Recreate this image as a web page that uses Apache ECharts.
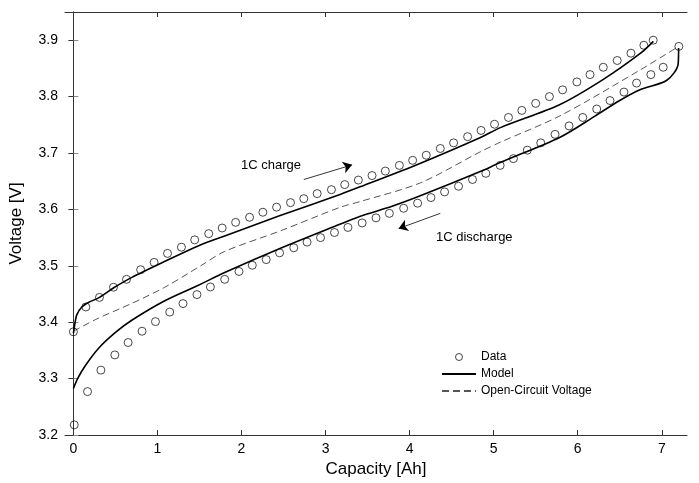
<!DOCTYPE html>
<html><head><meta charset="utf-8">
<script src="https://cdn.jsdelivr.net/npm/echarts@6/dist/echarts.min.js"></script>
<style>html,body{margin:0;padding:0;background:#fff}#c{width:699px;height:483px}</style>
</head><body><div id="c"></div>
<script>
// ---- data ----
const xTicks = [0,1,2,3,4,5,6,7];
const yTicks = [3.2,3.3,3.4,3.5,3.6,3.7,3.8,3.9];

const chargeDataX = [0,0.148,0.31,0.477,0.632,0.80,0.96,1.12,1.285,1.443,1.61,1.77,1.93,2.096,2.254,2.417,2.583,2.741,2.90,3.07,3.228,3.39,3.553,3.711,3.878,4.036,4.198,4.365,4.523,4.69,4.85,5.01,5.176,5.335,5.50,5.663,5.82,5.99,6.146,6.304,6.47,6.633,6.787,6.898];
const chargeDataY = [3.383,3.427,3.444,3.462,3.476,3.493,3.506,3.522,3.533,3.546,3.557,3.567,3.577,3.586,3.595,3.604,3.612,3.619,3.628,3.635,3.644,3.652,3.660,3.668,3.678,3.687,3.696,3.708,3.718,3.729,3.740,3.751,3.763,3.7755,3.788,3.800,3.812,3.826,3.839,3.852,3.864,3.877,3.891,3.900];

const dischargeDataX = [0.01,0.168,0.327,0.493,0.651,0.817,0.976,1.146,1.304,1.47,1.63,1.80,1.97,2.128,2.294,2.453,2.622,2.78,2.94,3.106,3.266,3.435,3.60,3.759,3.929,4.095,4.254,4.416,4.582,4.748,4.907,5.077,5.235,5.40,5.56,5.73,5.897,6.06,6.226,6.384,6.55,6.70,6.87,7.017,7.203];
const dischargeDataY = [3.218,3.277,3.315,3.342,3.364,3.384,3.401,3.418,3.433,3.449,3.4625,3.476,3.490,3.501,3.511,3.523,3.532,3.542,3.550,3.559,3.568,3.576,3.585,3.593,3.602,3.611,3.621,3.631,3.641,3.653,3.664,3.678,3.690,3.705,3.718,3.733,3.748,3.763,3.778,3.793,3.808,3.824,3.839,3.852,3.889];

const chargeModelX = [0,0.01,0.04,0.1,0.18,0.31,0.48,0.69,1.09,1.51,1.8,2.46,3.18,3.41,4.13,4.85,5.08,5.79,6.3,6.74,6.9];
const chargeModelY = [3.380,3.390,3.413,3.427,3.435,3.444,3.461,3.479,3.508,3.537,3.553,3.589,3.627,3.640,3.682,3.728,3.745,3.786,3.830,3.876,3.898];

const dischargeModelX = [0,0.05,0.137,0.295,0.493,0.69,1.087,1.48,1.8,2.464,3.177,3.414,3.8,4.127,4.84,5.077,5.79,6.2,6.5,6.74,7.06,7.195,7.2];
const dischargeModelY = [3.2825,3.300,3.322,3.353,3.381,3.403,3.438,3.465,3.488,3.531,3.574,3.588,3.606,3.624,3.667,3.683,3.728,3.765,3.793,3.812,3.829,3.858,3.886];

const ocvX = [0,0.295,0.69,1.087,1.514,1.8,2.464,3.177,3.414,4.127,4.84,5.077,5.79,6.74,7.2];
const ocvY = [3.384,3.407,3.433,3.462,3.500,3.5255,3.562,3.604,3.614,3.647,3.702,3.719,3.766,3.847,3.889];

// annotation arrows (data coordinates) and labels
const chargeArrow = [[2.741,3.653],[3.316,3.679]];
const dischargeArrow = [[4.365,3.593],[3.869,3.566]];
const chargeLabel = '1C charge';
const dischargeLabel = '1C discharge';

const zip = (xs, ys) => xs.map((x,i)=>[x, ys[i]]);
const FONT = '"Liberation Sans", Arial, sans-serif';

const chart = echarts.init(document.getElementById('c'));
const axisLineDark = {show:true, lineStyle:{color:'#333', width:1}};
const option = {
  animation:false,
  grid:{left:64,right:12,top:12,bottom:41},
  xAxis:[{
    type:'value', min:-0.1, max:7.3, position:'bottom',
    name:'Capacity [Ah]', nameLocation:'middle', nameGap:26,
    nameTextStyle:{fontFamily:FONT,fontSize:17,color:'#000'},
    axisLine:axisLineDark,
    axisTick:{show:true,inside:true,length:5,customValues:xTicks,lineStyle:{color:'#333'}},
    axisLabel:{customValues:xTicks,fontFamily:FONT,fontSize:14,color:'#000',margin:7},
    splitLine:{show:false}
  },{
    type:'value', min:-0.1, max:7.3, position:'top',
    axisLine:axisLineDark,
    axisTick:{show:true,inside:true,length:5,customValues:xTicks,lineStyle:{color:'#333'}},
    axisLabel:{show:false}, splitLine:{show:false}
  }],
  yAxis:[{
    type:'value', min:3.2, max:3.95, position:'left',
    name:'Voltage [V]', nameLocation:'middle', nameGap:40, nameRotate:90,
    nameTextStyle:{fontFamily:FONT,fontSize:17,color:'#000'},
    axisLine:{show:true,lineStyle:{color:'#8a8a8a',width:1}},
    axisTick:{show:true,inside:true,length:5,customValues:yTicks,lineStyle:{color:'#8a8a8a'}},
    axisLabel:{customValues:yTicks,fontFamily:FONT,fontSize:14,color:'#000',margin:7,formatter:v=>v.toFixed(1)},
    splitLine:{show:false}
  },{
    type:'value', min:3.2, max:3.95, position:'right',
    axisLine:axisLineDark,
    axisTick:{show:true,inside:true,length:5,customValues:yTicks,lineStyle:{color:'#333'}},
    axisLabel:{show:false}, splitLine:{show:false}
  }],
  legend:{
    orient:'vertical', left:436, top:346, itemGap:5, itemWidth:34, itemHeight:7,
    textStyle:{fontFamily:FONT,fontSize:12,color:'#000'},
    data:[
      {name:'Data', icon:'circle', itemStyle:{color:'rgba(255,255,255,0)',borderColor:'#000',borderWidth:0.9}},
      {name:'Model', itemStyle:{opacity:0}},
      {name:'Open-Circuit Voltage', itemStyle:{opacity:0}}
    ]
  },
  graphic:[
    {type:'text', left:241, top:159, style:{text:chargeLabel, font:'13px '+FONT, fill:'#000'}},
    {type:'text', left:436, top:231, style:{text:dischargeLabel, font:'13px '+FONT, fill:'#000'}}
  ],
  series:[
    {name:'Open-Circuit Voltage', type:'line', data:zip(ocvX,ocvY), showSymbol:false, symbol:'none', smooth:0.3,
     itemStyle:{color:'#555'}, lineStyle:{color:'#555',width:1,type:[7,4]}, z:2},
    {name:'Model', type:'line', data:zip(chargeModelX,chargeModelY), showSymbol:false, symbol:'none', smooth:0.3,
     itemStyle:{color:'#000'}, lineStyle:{color:'#000',width:1.6}, z:3},
    {name:'Model', type:'line', data:zip(dischargeModelX,dischargeModelY), showSymbol:false, symbol:'none', smooth:0.3,
     itemStyle:{color:'#000'}, lineStyle:{color:'#000',width:1.6}, z:3},
    {name:'Data', type:'scatter', data:zip(chargeDataX,chargeDataY), symbol:'circle', symbolSize:8,
     itemStyle:{color:'rgba(255,255,255,0)',borderColor:'#000',borderWidth:0.9}, z:4},
    {name:'Data', type:'scatter', data:zip(dischargeDataX,dischargeDataY), symbol:'circle', symbolSize:8,
     itemStyle:{color:'rgba(255,255,255,0)',borderColor:'#000',borderWidth:0.9}, z:4},
    {name:'arrows', type:'line', data:[], silent:true,
     markLine:{silent:true, symbol:['none','arrow'], symbolSize:9, animation:false,
       label:{show:false}, lineStyle:{color:'#000',width:0.8,type:'solid'},
       data:[
         [{coord:chargeArrow[0]},{coord:chargeArrow[1]}],
         [{coord:dischargeArrow[0]},{coord:dischargeArrow[1]}]
       ]}}
  ]
};
chart.setOption(option);
</script>
</body></html>
